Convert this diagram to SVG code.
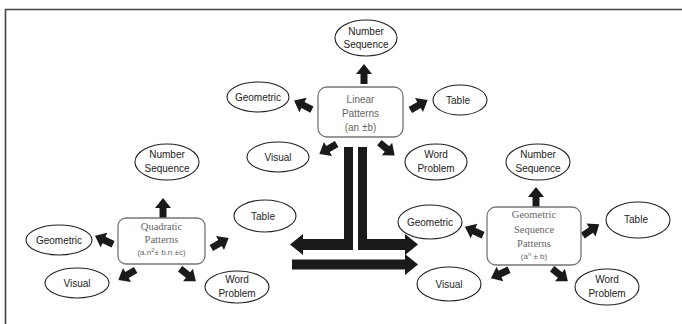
<svg xmlns="http://www.w3.org/2000/svg" width="682" height="324" viewBox="0 0 682 324">
<style>
.el{fill:#fff;stroke:#222;stroke-width:1.1}
.bx{fill:#fff;stroke:#777;stroke-width:1.3}
.t{font-family:"Liberation Sans",Arial,sans-serif;font-size:10px;fill:#222;text-anchor:middle}
.bt{font-family:"Liberation Sans",Arial,sans-serif;font-size:10px;fill:#666;text-anchor:middle}
.st{font-family:"Liberation Serif","Times New Roman",serif;font-size:10.5px;fill:#666;text-anchor:middle}
.sm{font-family:"Liberation Sans",Arial,sans-serif;font-size:8px;fill:#666;text-anchor:middle}
.ar{fill:#1a1a1a}
</style>
<defs>
<polygon id="ba" points="-10,-3.5 0,-3.5 0,-8 10,0 0,8 0,3.5 -10,3.5"/>
</defs>
<rect width="682" height="324" fill="#fff"/>
<path d="M5.5,324 V9.5 H682" fill="none" stroke="#444" stroke-width="1.6"/>

<g id="connectors" class="ar">
<use href="#ba" transform="translate(364,74) rotate(-90)"/>
<use href="#ba" transform="translate(303,105) rotate(207)"/>
<use href="#ba" transform="translate(419,105) rotate(-30)"/>
<use href="#ba" transform="translate(328,149) rotate(150)"/>
<use href="#ba" transform="translate(387,149) rotate(40)"/>
<use href="#ba" transform="translate(163,208) rotate(-90)"/>
<use href="#ba" transform="translate(104,240) rotate(205)"/>
<use href="#ba" transform="translate(220,243) rotate(-30)"/>
<use href="#ba" transform="translate(127,275) rotate(150)"/>
<use href="#ba" transform="translate(188,275) rotate(38)"/>
<use href="#ba" transform="translate(536,197) rotate(-90)"/>
<use href="#ba" transform="translate(474,231) rotate(205)"/>
<use href="#ba" transform="translate(591,230) rotate(-35)"/>
<use href="#ba" transform="translate(500,274) rotate(155)"/>
<use href="#ba" transform="translate(560,275) rotate(38)"/>
<polygon points="344,147 353,147 353,250 303,250 303,255 290,244.5 303,234 303,239 344,239"/>
<polygon points="358,147 367,147 367,239 405,239 405,234 418,244.5 405,255 405,250 358,250"/>
<polygon points="292,259.5 405,259.5 405,254 418,264.5 405,275 405,269.5 292,269.5"/>
</g>

<g id="linear">
<rect class="bx" x="318" y="87" width="85" height="50" rx="9"/>
<text class="bt" x="360.5" y="103">Linear</text>
<text class="bt" x="360.5" y="117">Patterns</text>
<text class="bt" x="360.5" y="131">(an ±b)</text>
</g>
<g id="lin-number"><ellipse class="el" cx="366" cy="38" rx="31" ry="18"/><text class="t" x="366" y="35">Number</text><text class="t" x="366" y="48">Sequence</text></g>
<g id="lin-geometric"><ellipse class="el" cx="258" cy="97" rx="31" ry="15"/><text class="t" x="258" y="101">Geometric</text></g>
<g id="lin-table"><ellipse class="el" cx="460" cy="100" rx="27" ry="15"/><text class="t" x="458" y="104">Table</text></g>
<g id="lin-visual"><ellipse class="el" cx="278" cy="157" rx="31" ry="15"/><text class="t" x="278" y="161">Visual</text></g>
<g id="lin-word"><ellipse class="el" cx="436" cy="162" rx="31" ry="18"/><text class="t" x="436" y="158">Word</text><text class="t" x="436" y="172">Problem</text></g>

<g id="quadratic">
<rect class="bx" x="118" y="218" width="87" height="46" rx="8"/>
<text class="st" x="161.5" y="230">Quadratic</text>
<text class="st" x="161.5" y="243">Patterns</text>
<text class="sm" x="161.5" y="255">(a.n<tspan dy="-3" font-size="6">2</tspan><tspan dy="3">± b.n ±c)</tspan></text>
</g>
<g id="quad-number"><ellipse class="el" cx="167" cy="162" rx="32" ry="18"/><text class="t" x="167" y="158">Number</text><text class="t" x="167" y="172">Sequence</text></g>
<g id="quad-geometric"><ellipse class="el" cx="59" cy="240" rx="33" ry="15"/><text class="t" x="59" y="244">Geometric</text></g>
<g id="quad-table"><ellipse class="el" cx="265" cy="216" rx="31" ry="16"/><text class="t" x="263" y="220">Table</text></g>
<g id="quad-visual"><ellipse class="el" cx="77" cy="283" rx="32" ry="15"/><text class="t" x="77" y="287">Visual</text></g>
<g id="quad-word"><ellipse class="el" cx="237" cy="287" rx="32" ry="16"/><text class="t" x="237" y="283">Word</text><text class="t" x="237" y="297">Problem</text></g>

<g id="geometric-seq">
<rect class="bx" x="487" y="207" width="94" height="58" rx="9"/>
<text class="st" x="534" y="218">Geometric</text>
<text class="st" x="534" y="233">Sequence</text>
<text class="st" x="534" y="247">Patterns</text>
<text class="sm" x="534" y="259">(a<tspan dy="-3" font-size="6">n</tspan><tspan dy="3"> ± b)</tspan></text>
</g>
<g id="geo-number"><ellipse class="el" cx="538" cy="162" rx="32" ry="18"/><text class="t" x="538" y="158">Number</text><text class="t" x="538" y="172">Sequence</text></g>
<g id="geo-geometric"><ellipse class="el" cx="430" cy="222" rx="32" ry="17"/><text class="t" x="430" y="226">Geometric</text></g>
<g id="geo-table"><ellipse class="el" cx="638" cy="220" rx="32" ry="18"/><text class="t" x="636" y="223">Table</text></g>
<g id="geo-visual"><ellipse class="el" cx="449" cy="284" rx="32" ry="17"/><text class="t" x="449" y="288">Visual</text></g>
<g id="geo-word"><ellipse class="el" cx="607" cy="287" rx="32" ry="18"/><text class="t" x="607" y="283">Word</text><text class="t" x="607" y="297">Problem</text></g>
</svg>
